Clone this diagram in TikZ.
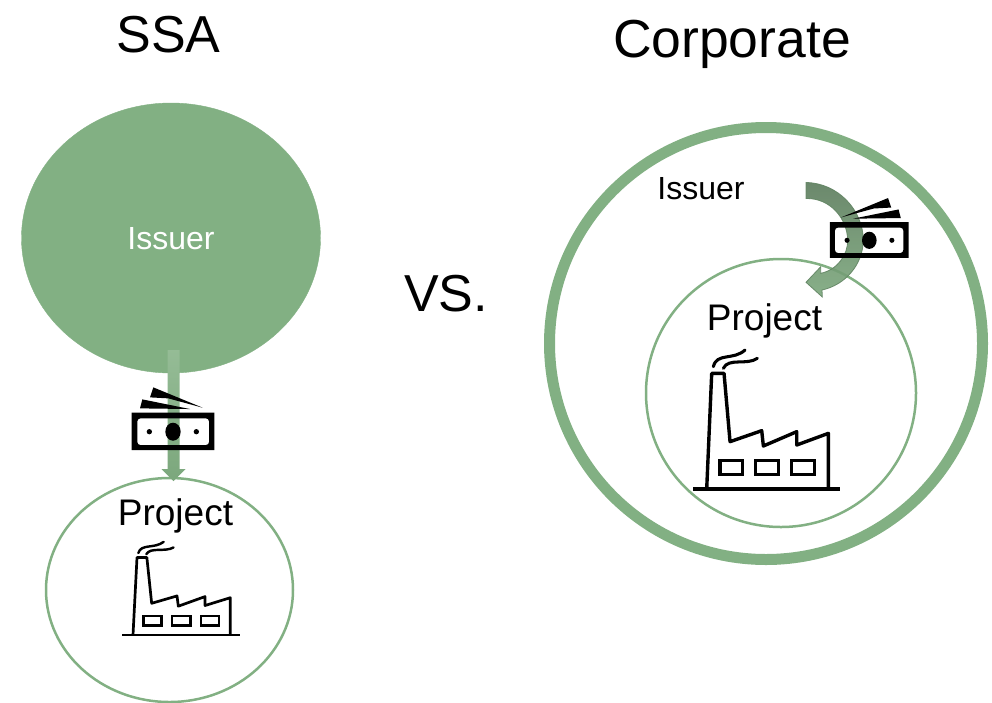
\documentclass[tikz,border=0pt]{standalone}
\usepackage{fontspec}
\setmainfont{Liberation Sans}
\usepackage{xcolor}
\usetikzlibrary{positioning,calc,shapes.geometric}
\definecolor{sagegreen}{HTML}{82B083}
\tikzset{title/.style={anchor=base, font=\fontsize{#1}{#1}\selectfont}}
\tikzset{projlabel/.style={anchor=base, font=\fontsize{37}{37}\selectfont}}
\tikzset{issuerlabel/.style={font=\fontsize{32}{32}\selectfont}}
\tikzset{ring/.style={ellipse, draw=sagegreen, inner sep=0pt}}
\tikzset{flowarr/.style={top color=#1, bottom color=sagegreen!95!black, draw=none}}
\tikzset{
    factory/.pic={
        \draw[line width=#1] (-220,0) -- (220,0);
        \draw[line width=#1, line join=round] (-180,0) -- (-165,-347) -- (-128,-347) -- (-110,-142)
            -- (-15,-175) -- (-10,-129) -- (90,-172) -- (90,-132) -- (185,-167) -- (185,0);
        \draw[line width=#1] (-140,-85) rectangle (-72,-44);
        \draw[line width=#1] (-34,-85) rectangle (35,-44);
        \draw[line width=#1] (75,-85) rectangle (143,-44);
        \draw[line width=.9*#1, line cap=round] (-160,-367) .. controls (-150,-410) and (-100,-385) .. (-65,-417);
        \draw[line width=.9*#1, line cap=round] (-130,-362) .. controls (-115,-395) and (-60,-370) .. (-28,-392);
    },
    money/.pic={
        \fill[even odd rule] (-124,-57) rectangle (124,55)
            [rounded corners=3pt] (-107,-40) rectangle (108,40)
            [sharp corners] (0,0) ellipse [x radius=23, y radius=27]
            (-71,0) ellipse [x radius=8, y radius=8]
            (70,0) ellipse [x radius=8, y radius=8];
        \fill (-69,-103) -- (-59,-133) -- (89,-72) -- (-14,-100) -- cycle;
        \fill (-99,-70) -- (-92,-97) -- (51,-68) -- cycle;
    }
}
\begin{document}
\begin{tikzpicture}[x=1pt, y=-1pt]
    \useasboundingbox (0,0) rectangle (992,702);
    %
    \node[title=52] (ssaTitle) at (168.5,52) {SSA};
    \node[title=53.5] (corpTitle) at (732,57) {Corporate};
    \node[title=52] (vsTitle) at (446,311) {VS.};
    %
    \node[ring, fill=sagegreen, minimum width=299pt, minimum height=270pt] (issuerA) at (171,238) {};
    \node[issuerlabel, text=white] (issA) at (171,239) {Issuer};
    \node[ring, line width=2.5pt, minimum width=247pt, minimum height=224pt] (projectA) at (169.5,590) {};
    \node[projlabel] (projA) at (175.5,525) {Project};
    %
    \coordinate (srcA) at (173.5,350);
    \coordinate (dstA) at (173.5,481);
    \coordinate (billA) at (173,431.7);
    \coordinate (plantA) at (181,635);
    \shade[flowarr=sagegreen!85!white] (dstA) -- ++(-12,-12) -- ++(6,0) |- (srcA) -| ++(6,119) -- ++(6,0) -- cycle;
    \pic[x=1/3*1pt, y=-1/3*1pt] at (billA) {money};
    \pic[x=.8/3*1pt, y=-.67/3*1pt] at (plantA) {factory={2.7pt}};
    %
    \node[ring, line width=11pt, minimum width=433pt, minimum height=432pt] (issuerB) at (766,343.5) {};
    \node[ring, line width=2.5pt, minimum width=270pt, minimum height=268pt] (projectB) at (781,393) {};
    \node[issuerlabel] (issB) at (701,189) {Issuer};
    \node[projlabel] (projB) at (764.5,330) {Project};
    %
    \coordinate (srcB) at (806,190.5);
    \coordinate (dstB) at (806,282.3);
    \coordinate (billB) at (869.3,240.3);
    \coordinate (plantB) at (766.7,489);
    \shadedraw[top color=sagegreen!70!black, bottom color=sagegreen!95!black, draw=sagegreen!75!black, line width=.8pt, opacity=.9]
        (srcB) ++(0,-8) .. controls (838,183) and (863,210) .. (863.3,240)
        .. controls (863,265) and (845,285) .. (822,290) -- (822.3,297) -- (dstB)
        -- (820.7,266.7) -- (820.7,273.3) .. controls (837,270) and (848,255) .. (847.7,240)
        .. controls (847,218) and (830,198) .. (806,198.5) -- cycle;
    \pic[x=-.318pt, y=-.318pt] at (billB) {money};
    \pic[x=1/3*1pt, y=-1/3*1pt] at (plantB) {factory={3.4pt}};
    %
\end{tikzpicture}
\end{document}
